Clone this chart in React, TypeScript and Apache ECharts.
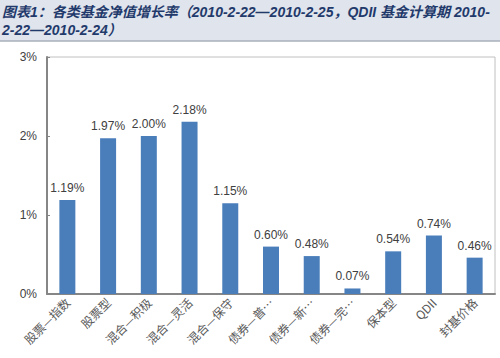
import React, { useEffect, useRef } from "react";
import * as echarts from "echarts";

const categories = ["股票—指数", "股票型", "混合—积极", "混合—灵活", "混合—保守", "债券—普…", "债券—新…", "债券—完…", "保本型", "QDII", "封基价格"];
const growthRates = [1.19, 1.97, 2.0, 2.18, 1.15, 0.6, 0.48, 0.07, 0.54, 0.74, 0.46];
const titleLine1 = "图表1：各类基金净值增长率（2010-2-22—2010-2-25，QDII 基金计算期 2010-";
const titleLine2 = "2-22—2010-2-24）";

export default function App() {
  const ref = useRef<HTMLDivElement>(null);
  useEffect(() => {
    if (!ref.current) return;
    const chart = echarts.init(ref.current, null, { renderer: "svg" });
    const font = "'Liberation Sans', Arial, 'Noto Sans CJK SC', sans-serif";
    const titleFont = "italic bold 14px 'Liberation Sans', Arial, 'Noto Sans CJK SC', sans-serif";
    chart.setOption({
      animation: false,
      backgroundColor: "#ffffff",
      graphic: [
        { type: "rect", shape: { x: 0, y: 0, width: 500, height: 41 }, style: { fill: "#dfe4ed" }, z: 0 },
        { type: "line", shape: { x1: 0, y1: 41, x2: 500, y2: 41 }, style: { stroke: "#a9b0bb", lineWidth: 1.5 }, z: 1 },
        { type: "text", x: 2, y: 5, style: { text: titleLine1, fill: "#1f3a6b", font: titleFont }, z: 2 },
        { type: "text", x: 2, y: 23, style: { text: titleLine2, fill: "#1f3a6b", font: titleFont }, z: 2 },
      ],
      grid: { left: 47, right: 5, top: 57, bottom: 64, show: true, borderColor: "#c0c0c0", borderWidth: 1 },
      xAxis: {
        type: "category",
        data: categories,
        axisLine: { lineStyle: { color: "#868686", width: 2 } },
        axisTick: { show: false },
        axisLabel: { rotate: 45, interval: 0, color: "#595959", fontSize: 12, fontFamily: "'Noto Sans CJK SC', sans-serif", margin: 6 },
      },
      yAxis: {
        type: "value",
        min: 0, max: 3, interval: 1,
        axisLine: { show: true, lineStyle: { color: "#868686", width: 2 } },
        axisTick: { show: true, inside: true, length: 3, lineStyle: { color: "#868686" } },
        splitLine: { show: false },
        axisLabel: { formatter: "{value}%", color: "#404040", fontSize: 12, fontFamily: font, margin: 10 },
      },
      series: [
        {
          type: "bar",
          data: growthRates,
          barWidth: 16,
          itemStyle: { color: "#4a7ebb" },
          label: {
            show: true, position: "top", distance: 6,
            formatter: (p: any) => p.value.toFixed(2) + "%",
            color: "#404040", fontSize: 12, fontFamily: font,
          },
        },
      ],
    });
    return () => chart.dispose();
  }, []);
  return <div ref={ref} style={{ position: "fixed", left: 0, top: 0, width: 500, height: 358 }} />;
}
